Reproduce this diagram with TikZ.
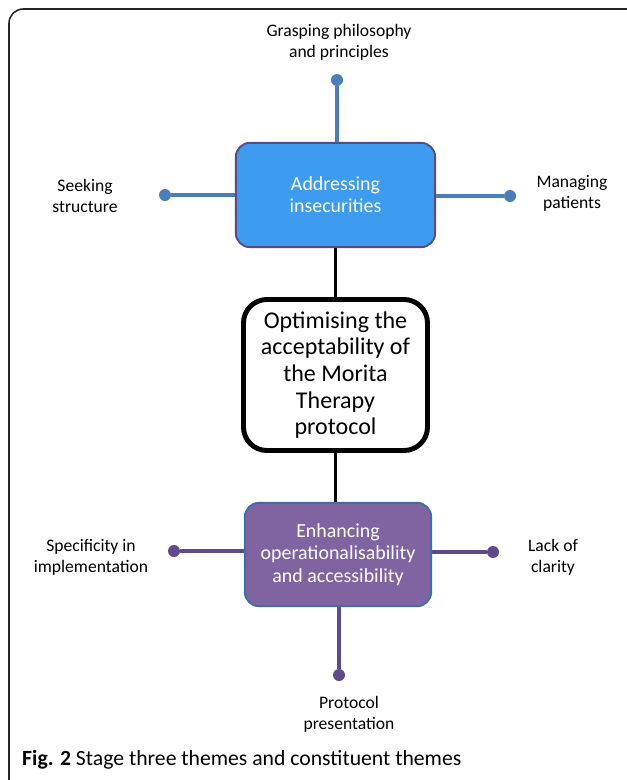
\documentclass[tikz,border=0pt]{standalone}
\usepackage{fontspec}
\setmainfont{Carlito}
\usetikzlibrary{positioning}

\definecolor{themeBlue}{HTML}{3D9BF0}
\definecolor{ruleBlue}{HTML}{4A7EBB}
\definecolor{themePurple}{HTML}{8064A2}
\definecolor{rulePurple}{HTML}{5F4B8B}
\definecolor{edgePurple}{HTML}{5E4A7E}
\definecolor{edgeBlue}{HTML}{3A6FA8}

\begin{document}
\begin{tikzpicture}[x=0.03cm,y=-0.03cm,
    theme/.style={rounded corners=12pt, line width=1.6pt, align=center,
        text=white, font=\fontsize{17}{19}\selectfont, inner sep=0pt},
    core/.style={draw=black, rounded corners=20pt, line width=4.2pt, align=center,
        font=\fontsize{20.5}{22.7}\selectfont, inner sep=0pt,
        minimum width=5.52cm, minimum height=4.53cm},
    sub/.style={align=center, font=\fontsize{15}{18}\selectfont},
    dot/.style={circle, inner sep=0pt, minimum size=0.36cm},
    spoke/.style={line width=2.9pt},
]

    \useasboundingbox (0,0) rectangle (627,780);
    \begin{scope}
        \clip (0,0) rectangle (627,780);
        \draw[black!85, line width=1.3pt, rounded corners=12pt] (9,9) rectangle (660,810);
    \end{scope}

    % central theme
    \node[core] (optim) at (335.5,375) {Optimising the\\acceptability of\\the Morita\\Therapy\\protocol};

    % stage three themes
    \node[theme, fill=themeBlue, draw=edgePurple, minimum width=5.98cm, minimum height=3.13cm]
        (addr) at (335.5,195) {Addressing\\insecurities};
    \node[theme, fill=themePurple, draw=edgeBlue, minimum width=5.59cm, minimum height=3.1cm]
        (enh) at (338,554.5) {Enhancing\\operationalisability\\and accessibility};

    \draw[line width=1.8pt] (addr.south) -- (optim.north);
    \draw[line width=1.8pt] (optim.south) -- (optim.south |- enh.north);

    % constituent themes
    \node[dot, fill=ruleBlue] (dGrasp) at (337,80) {};
    \node[dot, fill=ruleBlue] (dSeek) at (165,195) {};
    \node[dot, fill=ruleBlue] (dManage) at (510,196) {};
    \node[dot, fill=rulePurple] (dSpec) at (174,551) {};
    \node[dot, fill=rulePurple] (dLack) at (493,552) {};
    \node[dot, fill=rulePurple] (dProto) at (339,675) {};

    \draw[spoke, ruleBlue] (dGrasp) -- (dGrasp |- addr.north);
    \draw[spoke, ruleBlue] (dSeek) -- (dSeek -| addr.west);
    \draw[spoke, ruleBlue] (dManage) -- (dManage -| addr.east);
    \draw[spoke, rulePurple] (dSpec) -- (dSpec -| enh.west);
    \draw[spoke, rulePurple] (dLack) -- (dLack -| enh.east);
    \draw[spoke, rulePurple] (dProto) -- (dProto |- enh.south);

    \node[sub] (grasp) at (339,42) {Grasping philosophy\\and principles};
    \node[sub] (seek) at (85,196) {Seeking\\structure};
    \node[sub] (manage) at (572,193) {Managing\\patients};
    \node[sub] (spec) at (91,557) {Specificity in\\implementation};
    \node[sub] (lack) at (553,557) {Lack of\\clarity};
    \node[sub] (proto) at (349,714) {Protocol\\presentation};

    % caption
    \node[anchor=base west, inner sep=0pt, font=\fontsize{18.5}{20}\selectfont]
        (caption) at (22,765) {\textbf{Fig. 2} Stage three themes and constituent themes};

\end{tikzpicture}
\end{document}
